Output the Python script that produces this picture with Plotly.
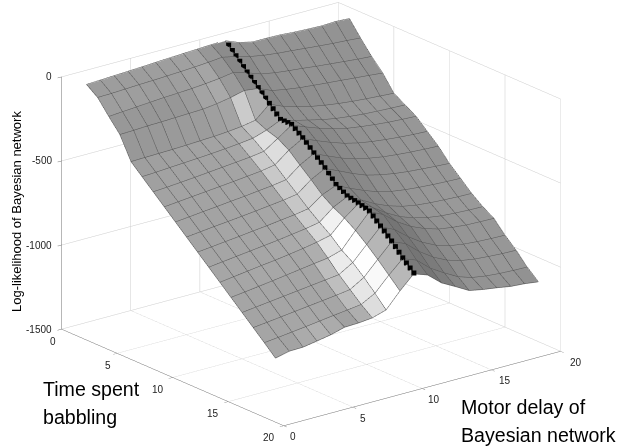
import numpy as np
import plotly.graph_objects as go

time_idx = list(range(1, 19))
motor_idx = list(range(1, 21))
z_rows = [
 [-41,-37,-33,-29,-25,-20,-16,-12,-8,-4,-2,-35,-54,-54,-56,-62,-66,-69,-65,-70],
 [-90,-88,-84,-80,-77,-73,-69,-64,-58,-50,-68,-90,-105,-115,-122,-130,-138,-145,-150,-157],
 [-174,-168,-162,-156,-150,-146,-141,-134,-125,-112,-136,-165,-180,-190,-198,-208,-216,-224,-232,-238],
 [-253,-250,-246,-244,-241,-238,-235,-225,-210,-190,-200,-235,-250,-262,-270,-278,-285,-293,-300,-308],
 [-385,-383,-381,-379,-376,-372,-368,-362,-353,-338,-265,-300,-325,-345,-360,-372,-381,-388,-394,-399],
 [-446,-442,-436,-431,-426,-420,-413,-405,-395,-368,-331,-355,-375,-395,-410,-420,-428,-433,-437,-440],
 [-507,-502,-495,-488,-480,-472,-464,-456,-444,-389,-332,-365,-395,-420,-440,-452,-462,-470,-475,-479],
 [-568,-560,-552,-544,-536,-528,-519,-510,-495,-430,-383,-418,-450,-478,-498,-512,-522,-530,-536,-540],
 [-629,-621,-612,-604,-595,-587,-577,-568,-555,-490,-444,-480,-515,-542,-560,-574,-583,-590,-595,-599],
 [-690,-681,-672,-664,-655,-646,-636,-626,-612,-548,-504,-540,-578,-610,-630,-645,-655,-662,-668,-673],
 [-751,-742,-733,-724,-714,-705,-694,-684,-670,-610,-575,-615,-650,-680,-700,-712,-720,-726,-730,-733],
 [-812,-802,-792,-782,-772,-762,-750,-738,-722,-655,-614,-655,-700,-735,-760,-775,-783,-788,-792,-794],
 [-873,-862,-851,-840,-830,-818,-805,-790,-770,-690,-627,-670,-725,-770,-800,-820,-832,-838,-842,-844],
 [-934,-924,-913,-902,-890,-878,-866,-855,-830,-735,-646,-685,-750,-800,-835,-860,-872,-880,-883,-885],
 [-995,-985,-975,-965,-955,-945,-935,-925,-875,-790,-707,-745,-810,-865,-905,-930,-943,-950,-954,-956],
 [-1056,-1047,-1037,-1027,-1017,-1007,-997,-985,-935,-850,-767,-800,-870,-925,-965,-990,-1003,-1010,-1015,-1017],
 [-1117,-1108,-1098,-1088,-1077,-1066,-1056,-1045,-1000,-915,-839,-870,-940,-990,-1035,-1062,-1075,-1082,-1086,-1088],
 [-1180,-1161,-1159,-1145,-1130,-1107,-1104,-1096,-1071,-980,-900,-929,-998,-1042,-1088,-1104,-1116,-1130,-1136,-1147],
]
ridge_motor = 11
axis_ticks = [0, 5, 10, 15, 20]
z_ticks = [0, -500, -1000, -1500]
z_labels = ["0", "-500", "-1000", "-1500"]

Z = np.array(z_rows, dtype=float)
nt, nm = Z.shape
X, Y = np.meshgrid(time_idx, motor_idx, indexing="ij")
vid = lambda i, j: i * nm + j
dZ_dm = np.gradient(Z, axis=1)
dZ_dt = np.gradient(Z, axis=0)
I, J, K, cols = [], [], [], []
for i in range(nt - 1):
    for j in range(nm - 1):
        # flat facet shade taken from the normal at the cell's far corner
        m = dZ_dm[i + 1, j + 1]
        t = dZ_dt[i + 1, j + 1] + 61
        s = 0.60 + (0.0047 if m > 0 else 0.0025) * m + 0.0004 * t
        g = int(round(255 * float(np.clip(s, 0.46, 1.0))))
        c = f"rgb({g},{g},{g})"
        I += [vid(i, j), vid(i, j)]
        J += [vid(i + 1, j), vid(i + 1, j + 1)]
        K += [vid(i + 1, j + 1), vid(i, j + 1)]
        cols += [c, c]

fig = go.Figure()
fig.add_trace(go.Mesh3d(x=X.ravel(), y=Y.ravel(), z=Z.ravel(), i=I, j=J, k=K, facecolor=cols,
                        flatshading=True, showscale=False, hoverinfo="skip",
                        lighting=dict(ambient=1, diffuse=0, specular=0, fresnel=0, roughness=1)))
lx, ly, lz = [], [], []
for i in range(nt):
    lx += list(X[i, :]) + [None]; ly += list(Y[i, :]) + [None]; lz += list(Z[i, :] + 3) + [None]
for j in range(nm):
    lx += list(X[:, j]) + [None]; ly += list(Y[:, j]) + [None]; lz += list(Z[:, j] + 3) + [None]
fig.add_trace(go.Scatter3d(x=lx, y=ly, z=lz, mode="lines", line=dict(color="#555555", width=1),
                           hoverinfo="skip", showlegend=False))
rj = motor_idx.index(ridge_motor)
ridge_t = np.arange(time_idx[0], time_idx[-1] + 0.01, 1 / 3)
ridge_z = np.interp(ridge_t, time_idx, Z[:, rj]) + 8
fig.add_trace(go.Scatter3d(x=ridge_t, y=np.full_like(ridge_t, ridge_motor), z=ridge_z, mode="markers",
                           marker=dict(color="black", size=2.6, symbol="square", line=dict(width=0)),
                           hoverinfo="skip", showlegend=False))

lab = dict(family="Liberation Sans", size=10, color="#222222")
big = dict(family="Liberation Sans", size=19.6, color="black")
ax = dict(showbackground=False, showgrid=True, gridcolor="#cccccc", gridwidth=1, zeroline=False,
          showline=True, linecolor="#707070", linewidth=1, ticks="outside", ticklen=5, tickcolor="#707070",
          showticklabels=False, title=dict(text=""), showspikes=False)
tick_notes = []
for v in axis_ticks:
    tick_notes.append(dict(x=v, y=0, z=-1500, text=str(v), showarrow=False, font=lab, xanchor="center", yanchor="middle",
                           xshift=-9 if v < 10 else -15, yshift=-12))
    tick_notes.append(dict(x=0 if False else 20, y=v, z=-1500, text=str(v), showarrow=False, font=lab, xanchor="center", yanchor="middle",
                           xshift=9 + 0.3 * v, yshift=-11))
for v, s in zip(z_ticks, z_labels):
    tick_notes.append(dict(x=0, y=0, z=v, text=s, showarrow=False, font=lab, xanchor="right", yanchor="middle",
                           xshift=-8, yshift=0))

alpha, theta = np.radians(38.2), np.radians(20)
d = 2.0
sc = 1.608
fig.update_layout(
    width=618, height=447, margin=dict(l=0, r=0, t=0, b=0), paper_bgcolor="white", showlegend=False,
    scene=dict(
        domain=dict(x=[0, 1], y=[0, 1]),
        xaxis=dict(ax, range=[0, 20], tickvals=axis_ticks),
        yaxis=dict(ax, range=[0, 20], tickvals=axis_ticks),
        zaxis=dict(ax, range=[-1500, 0], tickvals=z_ticks),
        aspectmode="manual", aspectratio=dict(x=1.0*sc, y=0.98*sc, z=0.747*sc),
        camera=dict(projection=dict(type="orthographic"),
                    center=dict(x=-0.006, y=-0.007, z=-0.045), up=dict(x=0, y=0, z=1),
                    eye=dict(x=d*np.cos(theta)*np.cos(alpha)-0.006, y=-d*np.cos(theta)*np.sin(alpha)-0.007, z=d*np.sin(theta)-0.045)),
        annotations=tick_notes,
    ),
    annotations=[
        dict(text="Log-likelihood of Bayesian network", x=16/618, y=1-212/447, xref="paper", yref="paper",
             xanchor="center", yanchor="middle",
             textangle=-90, showarrow=False, font=dict(family="Liberation Sans", size=13, color="black")),
        dict(text="Time spent", x=41/618, y=1-389/447, xref="paper", yref="paper", xanchor="left", yanchor="middle",
             showarrow=False, font=big),
        dict(text="babbling", x=41/618, y=1-417/447, xref="paper", yref="paper", xanchor="left", yanchor="middle",
             showarrow=False, font=big),
        dict(text="Motor delay of", x=459/618, y=1-407/447, xref="paper", yref="paper", xanchor="left", yanchor="middle",
             showarrow=False, font=big),
        dict(text="Bayesian network", x=459/618, y=1-434.5/447, xref="paper", yref="paper", xanchor="left", yanchor="middle",
             showarrow=False, font=big),
    ],
)
fig.write_html("out.html", post_script="document.body.style.margin='0';", config=dict(displayModeBar=False))
